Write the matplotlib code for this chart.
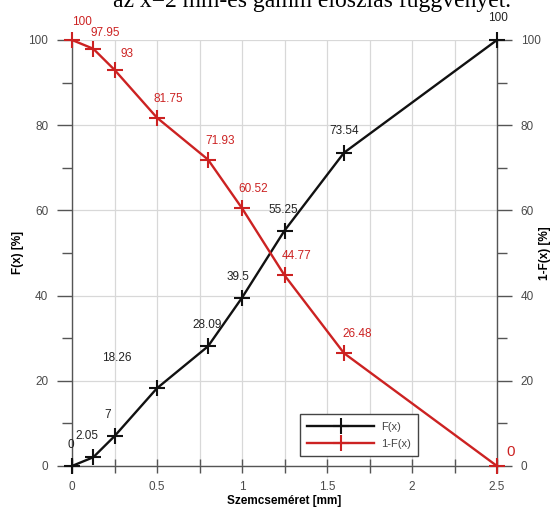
import matplotlib.pyplot as plt
from matplotlib.ticker import MultipleLocator

# szemcseméret [mm] és eloszlásfüggvény értékei
x_mm = [0, 0.125, 0.25, 0.5, 0.8, 1.0, 1.25, 1.6, 2.5]
F = [0, 2.05, 7, 18.26, 28.09, 39.5, 55.25, 73.54, 100]
F_inv = [100, 97.95, 93, 81.75, 71.93, 60.52, 44.77, 26.48, 0]

F_labels = ['0', '2.05', '7', '18.26', '28.09', '39.5', '55.25', '73.54', '100']
F_inv_labels = ['100', '97.95', '93', '81.75', '71.93', '60.52', '44.77', '26.48', '0']

# felirat eltolások pixelben
F_off = [(-1, 21), (-6, 21), (-7, 21), (-40, 30), (-1, 21), (-4, 21), (-1, 21), (0, 22), (1, 22)]
F_inv_off = [(0, 18), (-3, 16), (6, 16), (-4, 19), (-3, 19), (-4, 19), (-3, 19), (-2, 19), (9, 14)]

black = '#111111'
red = '#cc2222'
grey = '#555555'

fig = plt.figure(figsize=(5.53, 5.15), dpi=100)
ax = fig.add_axes([72 / 553, 1 - 466 / 515, 425 / 553, 426 / 515])

fig.text(312 / 553, 1 - 7 / 515, 'az x=2 mm-es gamm eloszlás függvényét.',
         family='Liberation Serif', fontsize=17, ha='center', va='baseline')

ax.plot(x_mm, F, color=black, lw=1.7, marker='+', ms=11, mew=1.5, clip_on=False,
        label='F(x)', zorder=4)
ax.plot(x_mm, F_inv, color=red, lw=1.7, marker='+', ms=11, mew=1.5, clip_on=False,
        label='1-F(x)', zorder=4)

for xv, yv, s, (dx, dy) in zip(x_mm, F, F_labels, F_off):
    ax.annotate(s, (xv, yv), xytext=(dx, dy), textcoords='offset pixels',
                ha='center', va='center', fontsize=8.5, color='#222222',
                family='Liberation Sans', annotation_clip=False)
for i, (xv, yv, s, (dx, dy)) in enumerate(zip(x_mm, F_inv, F_inv_labels, F_inv_off)):
    ax.annotate(s, (xv, yv), xytext=(dx, dy), textcoords='offset pixels',
                ha='left', va='center', fontsize=11 if i == len(x_mm) - 1 else 8.5,
                color=red, family='Liberation Sans', annotation_clip=False)

ax.set_xlim(0, 2.5)
ax.set_ylim(0, 100)
ax.xaxis.set_major_locator(MultipleLocator(0.5))
ax.xaxis.set_minor_locator(MultipleLocator(0.25))
ax.yaxis.set_major_locator(MultipleLocator(20))
ax.yaxis.set_minor_locator(MultipleLocator(10))
ax.set_xticks([0, 0.5, 1, 1.5, 2, 2.5])
ax.set_xticklabels(['0', '0.5', '1', '1.5', '2', '2.5'])

ax.grid(True, which='major', color='#d8d8d8', lw=0.9)
ax.grid(True, which='minor', axis='x', color='#d8d8d8', lw=0.9)
ax.set_axisbelow(True)

ax.spines['top'].set_visible(False)
for side in ['left', 'right', 'bottom']:
    ax.spines[side].set_color(grey)
    ax.spines[side].set_linewidth(1.0)

ax.tick_params(axis='y', which='major', direction='out', length=11, width=1,
               color=grey, labelcolor='#4a4a4a', labelsize=8.5, pad=6,
               left=True, right=True, labelleft=True, labelright=True)
ax.tick_params(axis='y', which='minor', direction='out', length=7, width=1,
               color=grey, left=True, right=True)
ax.tick_params(axis='x', which='both', direction='inout', length=10, width=1,
               color=grey, labelcolor='#4a4a4a', labelsize=8.5, pad=6)

for lab in ax.get_xticklabels() + ax.get_yticklabels():
    lab.set_family('Liberation Sans')

ax.set_xlabel('Szemcseméret [mm]', fontsize=8.5, fontweight='bold',
              family='Liberation Sans', labelpad=1)
fig.text(18 / 553, 1 - 253 / 515, 'F(x) [%]', rotation=90, fontsize=8.5,
         fontweight='bold', family='Liberation Sans', ha='center', va='center')
fig.text(545 / 553, 1 - 253 / 515, '1-F(x) [%]', rotation=90, fontsize=8.5,
         fontweight='bold', family='Liberation Sans', ha='center', va='center')

leg = ax.legend(loc='lower left', bbox_to_anchor=(222 / 425, 4 / 426),
                handlelength=6.0, prop={'family': 'Liberation Sans', 'size': 8},
                fancybox=False, edgecolor='#444444', framealpha=1,
                borderpad=0.7, labelspacing=0.6, handletextpad=0.6)
leg.get_frame().set_linewidth(1.0)
for t in leg.get_texts():
    t.set_color('#444444')

fig.savefig('out.png', dpi=100)
